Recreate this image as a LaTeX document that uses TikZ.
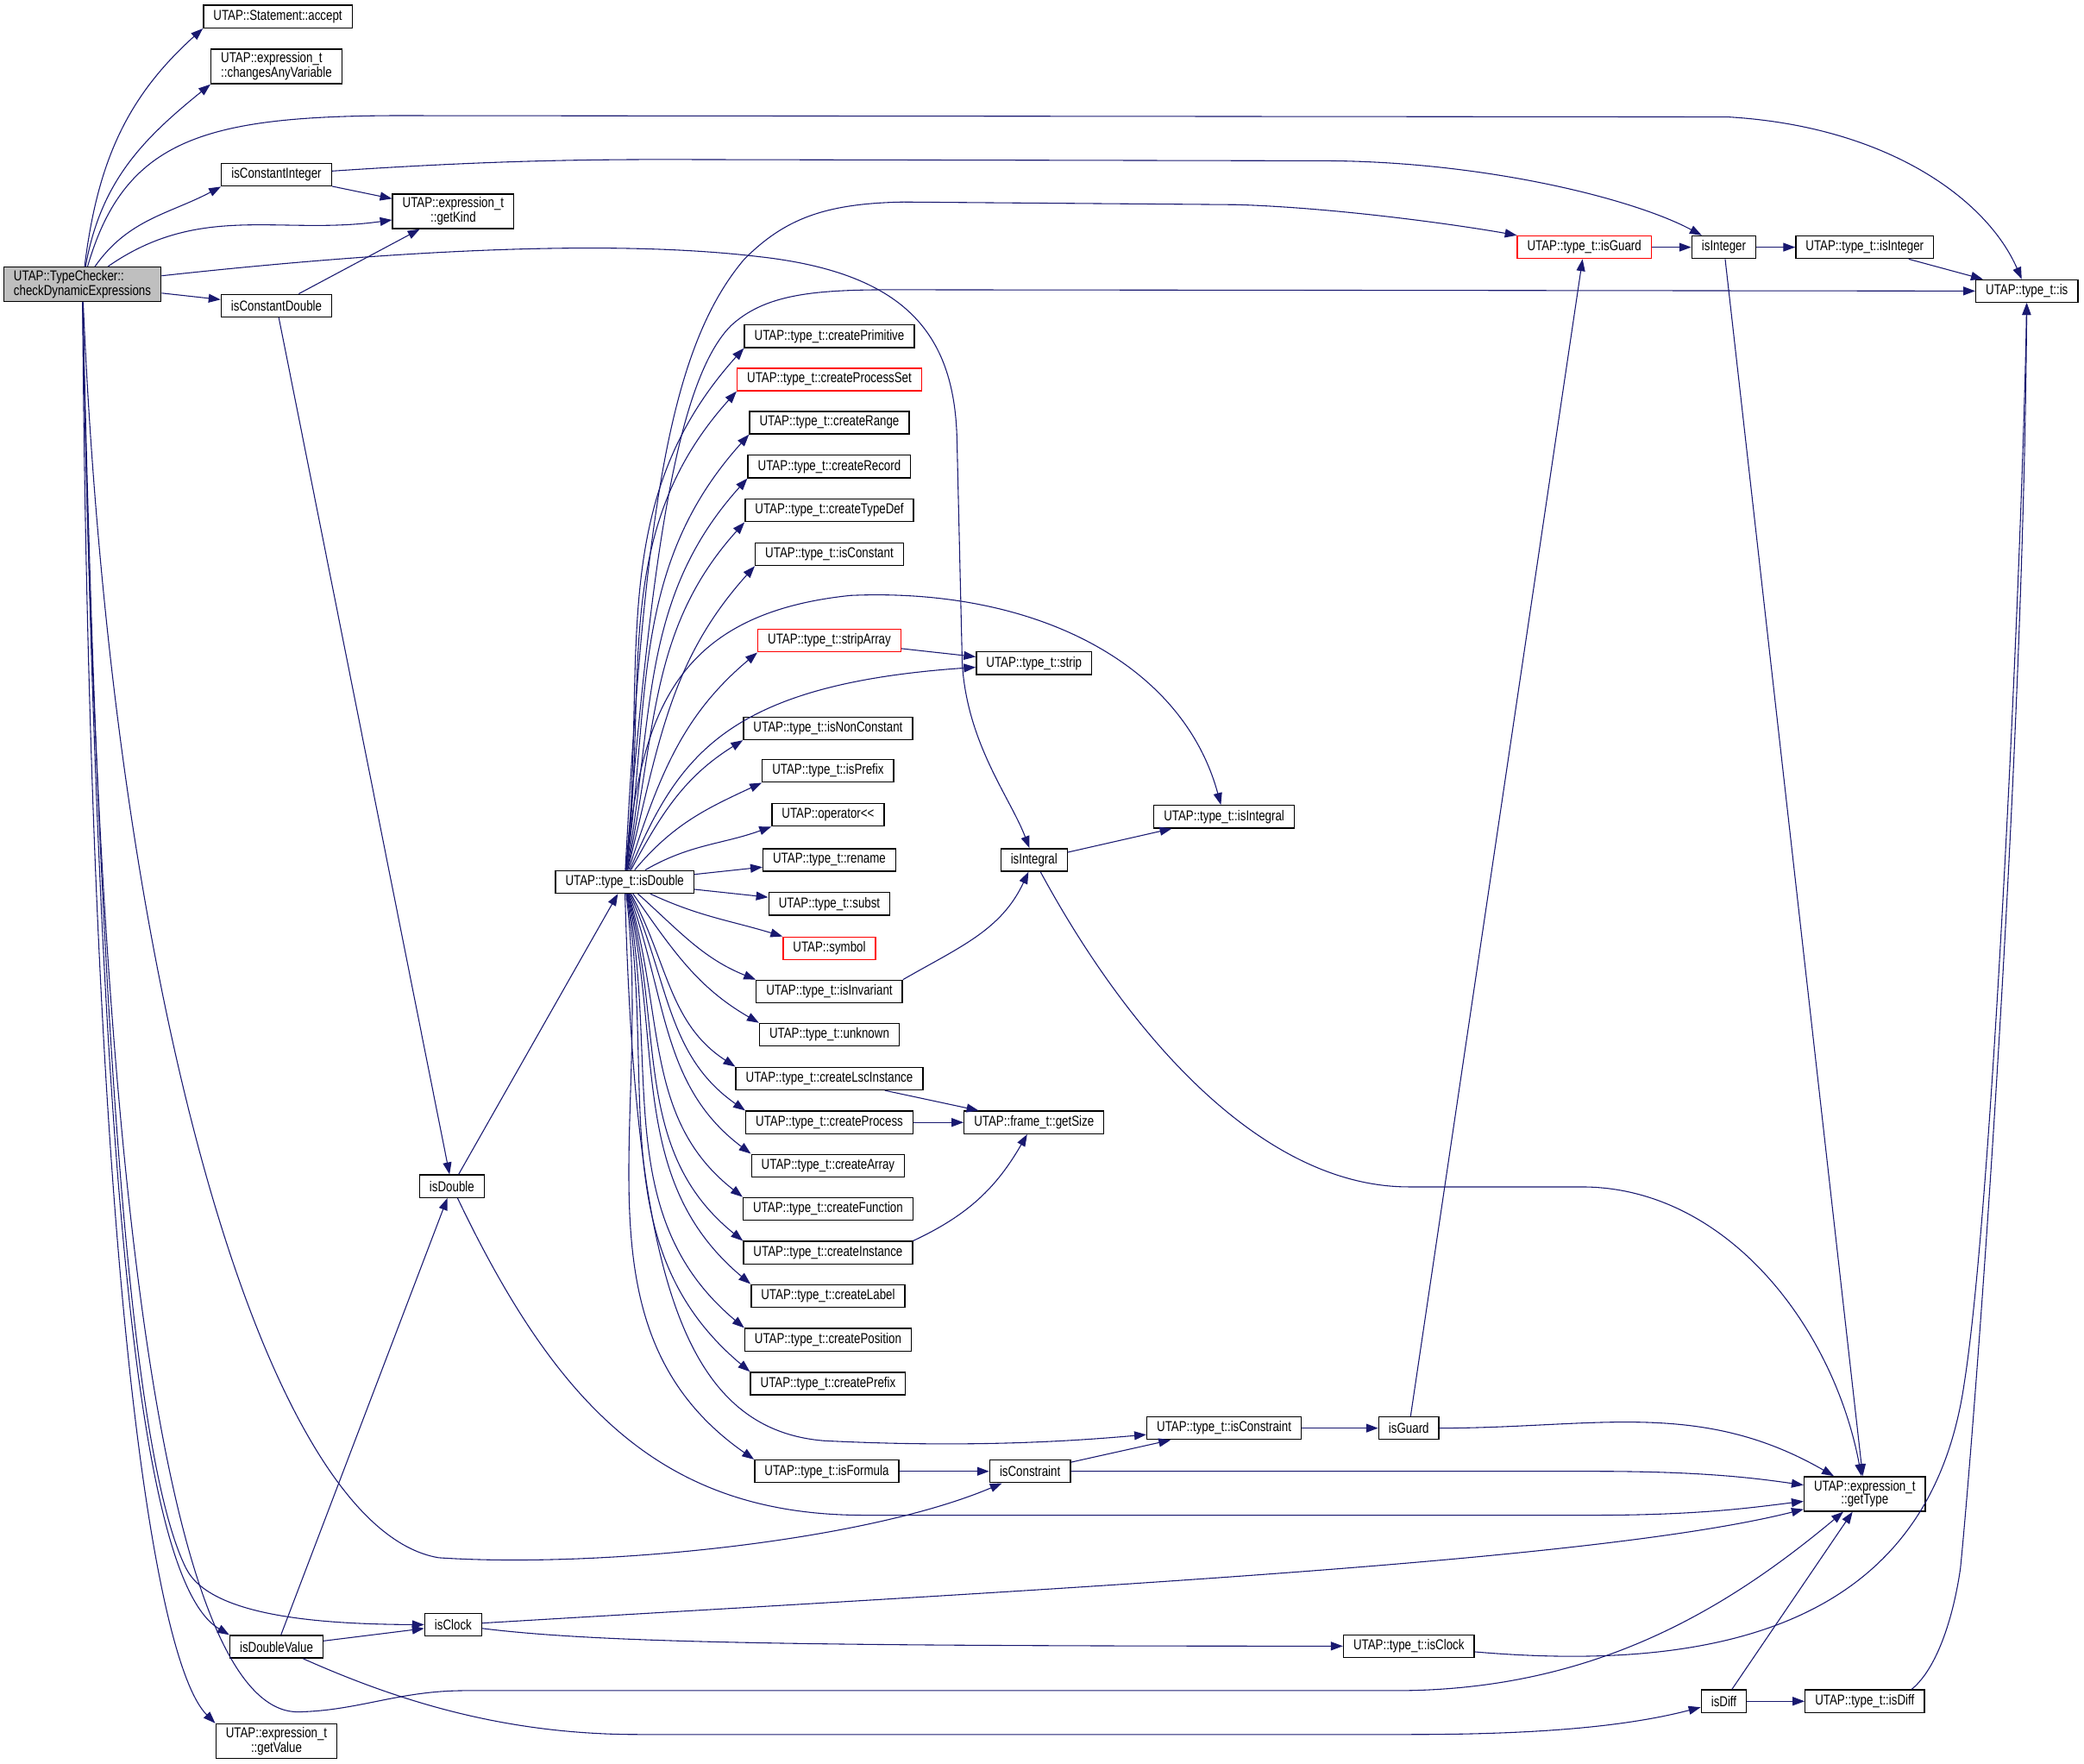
\documentclass[tikz,border=0pt]{standalone}
\usepackage{fontspec}
\setmainfont{Liberation Sans}[FakeStretch=0.8]
\usetikzlibrary{arrows.meta}
\definecolor{edgeblue}{HTML}{191970}
\definecolor{rootgray}{HTML}{BFBFBF}

\begin{document}
\begin{tikzpicture}[x=1pt,y=1pt,
    call/.style={draw=edgeblue, line width=0.7pt, -{Triangle[length=9pt,width=6.5pt]}}]

      \useasboundingbox (0,0) rectangle (1568,-1327);

      \begin{scope}[every node/.style={rectangle, draw, line width=0.9pt, fill=white,
          inner xsep=7.5pt, inner ysep=2pt, minimum height=17pt,
          font=\fontsize{10.8}{10}\selectfont}]
        \node[fill=rootgray, align=left, minimum height=26pt] (tc) at (62,-214) {UTAP::TypeChecker::\\checkDynamicExpressions};
        \node (acc)     at (209,-12.5)  {UTAP::Statement::accept};
        \node[align=left, minimum height=26pt] (cav) at (208,-50) {UTAP::expression\_t\\::changesAnyVariable};
        \node (cint)    at (208,-131.5) {isConstantInteger};
        \node[align=center, minimum height=26pt] (gkind) at (341,-159) {UTAP::expression\_t\\::getKind};
        \node (cdbl)    at (208,-230)   {isConstantDouble};
        \node[draw=red] (tig) at (1192,-186) {UTAP::type\_t::isGuard};
        \node (iint)    at (1297,-186)  {isInteger};
        \node (tii)     at (1403,-186)  {UTAP::type\_t::isInteger};
        \node (tis)     at (1525,-219)  {UTAP::type\_t::is};
        \node (cprim)   at (624,-253)   {UTAP::type\_t::createPrimitive};
        \node[draw=red] (cpset) at (624,-285.5) {UTAP::type\_t::createProcessSet};
        \node (crange)  at (624,-318)   {UTAP::type\_t::createRange};
        \node (crec)    at (624,-351)   {UTAP::type\_t::createRecord};
        \node (ctdef)   at (624,-384)   {UTAP::type\_t::createTypeDef};
        \node (iscon)   at (624,-417)   {UTAP::type\_t::isConstant};
        \node[draw=red] (strarr) at (624,-482) {UTAP::type\_t::stripArray};
        \node (strip)   at (778,-499)   {UTAP::type\_t::strip};
        \node (nonc)    at (623,-548)   {UTAP::type\_t::isNonConstant};
        \node (ipre)    at (623,-580)   {UTAP::type\_t::isPrefix};
        \node (oper)    at (623,-613)   {UTAP::operator\textless{}\textless};
        \node (ren)     at (624,-647)   {UTAP::type\_t::rename};
        \node (subs)    at (624,-680)   {UTAP::type\_t::subst};
        \node[draw=red] (sym) at (624,-713.5) {UTAP::symbol};
        \node (isinv)   at (624,-746)   {UTAP::type\_t::isInvariant};
        \node (unk)     at (624,-778.5) {UTAP::type\_t::unknown};
        \node (clsc)    at (624,-811.5) {UTAP::type\_t::createLscInstance};
        \node (cproc)   at (624,-844.5) {UTAP::type\_t::createProcess};
        \node (gsize)   at (778,-844.5) {UTAP::frame\_t::getSize};
        \node (carr)    at (623,-877)   {UTAP::type\_t::createArray};
        \node (cfun)    at (623,-909.5) {UTAP::type\_t::createFunction};
        \node (cinst)   at (623,-942.5) {UTAP::type\_t::createInstance};
        \node (clab)    at (623,-975)   {UTAP::type\_t::createLabel};
        \node (cpos)    at (623,-1008)  {UTAP::type\_t::createPosition};
        \node (cpref)   at (623,-1041)  {UTAP::type\_t::createPrefix};
        \node (tisintg) at (921,-614.5) {UTAP::type\_t::isIntegral};
        \node (iintg)   at (778,-647)   {isIntegral};
        \node (tdbl)    at (470,-663.5) {UTAP::type\_t::isDouble};
        \node (dbl)     at (340,-892.5) {isDouble};
        \node (tcons)   at (921,-1074.5) {UTAP::type\_t::isConstraint};
        \node (ig)      at (1060,-1074.5) {isGuard};
        \node (ifor)    at (622,-1107)  {UTAP::type\_t::isFormula};
        \node (icons)   at (775,-1107)  {isConstraint};
        \node[align=center, minimum height=26pt] (gt) at (1403,-1124) {UTAP::expression\_t\\::getType};
        \node (clk)     at (341,-1222.5) {isClock};
        \node (idv)     at (208,-1239)  {isDoubleValue};
        \node (tclk)    at (1060,-1238.5) {UTAP::type\_t::isClock};
        \node (dif)     at (1297,-1280) {isDiff};
        \node (tdif)    at (1403,-1280) {UTAP::type\_t::isDiff};
        \node[align=center, minimum height=26pt] (gv) at (208,-1310) {UTAP::expression\_t\\::getValue};
      \end{scope}

      \begin{scope}[every edge/.style={call}]
        % calls of checkDynamicExpressions
        \path (tc)  edge[out=83,in=222] (acc.south west);
        \path (tc)  edge[out=80,in=219] (cav.south west);
        \path (tc)  edge[out=55,in=208] (cint.south west);
        \path (tc)  edge[out=35,in=188] (gkind);
        \path (tc)  edge (cdbl);
        \draw[call] (tc) .. controls (95,-100) and (160,-86) .. (320,-87) -- (1300,-88)
          .. controls (1420,-95) and (1495,-150) .. (tis);
        \draw[call] (tc) .. controls (300,-188) and (460,-180) .. (570,-193)
          .. controls (680,-205) and (718,-250) .. (720,-330) -- (724,-500)
          .. controls (728,-560) and (760,-600) .. (iintg);
        \draw[call] (tc) .. controls (85,-750) and (200,-1150) .. (330,-1172)
          .. controls (450,-1180) and (650,-1160) .. (icons);
        \draw[call] (tc) .. controls (75,-1000) and (140,-1290) .. (225,-1288)
          .. controls (270,-1287) and (300,-1272) .. (350,-1272) -- (1050,-1272)
          .. controls (1200,-1272) and (1300,-1210) .. (gt);
        \draw[call] (tc) .. controls (75,-800) and (100,-1100) .. (140,-1180)
          .. controls (158,-1216) and (240,-1222) .. (clk);
        \draw[call] (tc) .. controls (75,-900) and (105,-1190) .. (idv.north west);
        \draw[call] (tc) .. controls (68,-950) and (115,-1250) .. (gv.north west);

        % constant helpers
        \path (cint) edge (gkind);
        \draw[call] (cint) .. controls (350,-122) and (420,-120) .. (500,-120) -- (1000,-121)
          .. controls (1120,-122) and (1230,-150) .. (iint);
        \path (cdbl) edge (gkind);
        \path (cdbl) edge (dbl);

        % type_t::isDouble fan
        \draw[call] (tdbl) .. controls (485,-380) and (505,-260) .. (560,-195)
          .. controls (590,-165) and (620,-153) .. (680,-152) -- (930,-154)
          .. controls (1000,-156) and (1090,-168) .. (tig);
        \draw[call] (tdbl) .. controls (488,-450) and (505,-290) .. (550,-245)
          .. controls (575,-222) and (610,-218) .. (670,-218) -- (tis);
        \path (tdbl) edge[out=84,in=228] (cprim.south west);
        \path (tdbl) edge[out=83,in=228] (cpset.south west);
        \path (tdbl) edge[out=82,in=228] (crange.south west);
        \path (tdbl) edge[out=80,in=228] (crec.south west);
        \path (tdbl) edge[out=78,in=228] (ctdef.south west);
        \path (tdbl) edge[out=76,in=228] (iscon.south west);
        \draw[call] (tdbl) .. controls (482,-540) and (505,-462) .. (640,-448)
          .. controls (780,-442) and (890,-500) .. (tisintg);
        \path (tdbl) edge[out=72,in=220] (strarr.south west);
        \draw[call] (tdbl) .. controls (510,-570) and (545,-515) .. (strip);
        \path (tdbl) edge[out=62,in=212] (nonc.south west);
        \path (tdbl) edge[out=50,in=205] (ipre.south west);
        \path (tdbl) edge[out=30,in=200] (oper.south west);
        \path (tdbl) edge (ren);
        \path (tdbl) edge (subs);
        \path (tdbl) edge[out=-25,in=163] (sym.north west);
        \path (tdbl) edge[out=-42,in=158] (isinv.north west);
        \path (tdbl) edge[out=-55,in=150] (unk.north west);
        \path (tdbl) edge[out=-62,in=147] (clsc.north west);
        \path (tdbl) edge[out=-66,in=145] (cproc.north west);
        \path (tdbl) edge[out=-70,in=143] (carr.north west);
        \path (tdbl) edge[out=-73,in=142] (cfun.north west);
        \path (tdbl) edge[out=-75,in=141] (cinst.north west);
        \path (tdbl) edge[out=-77,in=140] (clab.north west);
        \path (tdbl) edge[out=-79,in=140] (cpos.north west);
        \path (tdbl) edge[out=-81,in=140] (cpref.north west);
        \draw[call] (tdbl) .. controls (478,-950) and (510,-1075) .. (620,-1084)
          .. controls (740,-1090) and (820,-1083) .. (tcons);
        \path (tdbl) edge[out=-83,in=145] (ifor.north west);

        % second level
        \path (strarr) edge (strip);
        \path (clsc) edge (gsize);
        \path (cproc) edge (gsize);
        \path (cinst.north east) edge[out=25,in=240] (gsize);
        \path (isinv.north east) edge[out=30,in=245] (iintg);
        \path (iintg) edge (tisintg);
        \draw[call] (iintg) .. controls (850,-780) and (950,-893) .. (1060,-893) -- (1190,-893)
          .. controls (1300,-893) and (1380,-1000) .. (gt);
        \path (tig) edge (iint);
        \path (iint) edge (tii);
        \path (tii) edge (tis);
        \path (iint) edge (gt);
        \path (ig) edge (tig);
        \path (ig) edge[out=0,in=150] (gt);
        \path (tcons) edge (ig);
        \path (icons) edge (tcons);
        \draw[call] (icons) -- (1200,-1107) .. controls (1280,-1107) and (1320,-1112) .. (gt);
        \path (ifor) edge (icons);
        \path (dbl) edge (tdbl);
        \draw[call] (dbl) .. controls (420,-1060) and (500,-1140) .. (650,-1140) -- (1200,-1140)
          .. controls (1280,-1140) and (1320,-1134) .. (gt);
        \path (idv) edge (clk);
        \path (idv) edge (dbl);
        \draw[call] (idv) .. controls (300,-1280) and (380,-1305) .. (480,-1305) -- (1060,-1305)
          .. controls (1150,-1305) and (1220,-1300) .. (dif);
        \draw[call] (clk) .. controls (800,-1195) and (1200,-1175) .. (gt);
        \draw[call] (clk) .. controls (450,-1236) and (600,-1238.5) .. (tclk);
        \draw[call] (tclk) .. controls (1330,-1262) and (1455,-1200) .. (1478,-1040)
          .. controls (1500,-900) and (1522,-400) .. (tis);
        \path (dif) edge (gt);
        \path (dif) edge (tdif);
        \draw[call] ([xshift=-10pt]tdif.north east) .. controls (1458,-1255) and (1470,-1215) .. (1475,-1180)
          .. controls (1485,-1080) and (1522,-600) .. (tis);
      \end{scope}

    \end{tikzpicture}
\end{document}
